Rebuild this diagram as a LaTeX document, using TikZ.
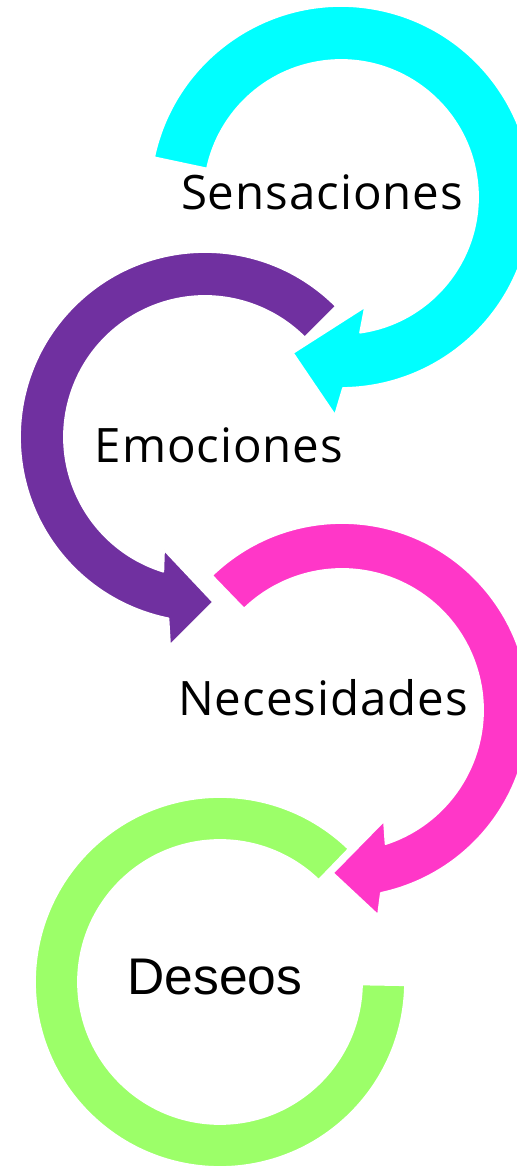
\documentclass[tikz,border=0pt]{standalone}
\usepackage{fontspec}
\setmainfont[LetterSpace=2]{Open Sans}
\newfontfamily\arialfont{Liberation Sans}
\definecolor{cSens}{HTML}{00FFFF}
\definecolor{cEmo}{HTML}{7030A0}
\definecolor{cNec}{HTML}{FF37C8}
\definecolor{cDes}{HTML}{9CFF69}
\newcommand{\bigtxt}   {\fontsize{40.5}{40.5}\selectfont}
\newcommand{\destxt}   {\arialfont\fontsize{44}{44}\selectfont}

\begin{document}
\begin{tikzpicture}[x=0.03cm,y=0.03cm,
   band/.style={draw=white,line width=1.5pt,line join=round},
   lbl/.style={anchor=base,inner sep=0pt}]
   \clip (0,0) rectangle (517,1167);
   \useasboundingbox (0,0) rectangle (517,1167);
   % Sensaciones
   \begin{scope}[shift={(341,970)}]
   \fill[band,fill=cSens] (168:191) arc[start angle=168,end angle=-89.4,radius=191]
      -- (-6,-218) -- (-48,-156) -- (24,-110) -- (-82:137)
      arc[start angle=-82,end angle=168,radius=137] -- cycle;
   \end{scope}
   % Emociones
   \begin{scope}[shift={(205,730)}]
   \fill[band,fill=cEmo] (45:185) arc[start angle=45,end angle=258.6,radius=185]
      -- (-35,-208) -- (8,-165) -- (-41,-113) -- (252.8:141)
      arc[start angle=252.8,end angle=45,radius=141] -- cycle;
   \end{scope}
   % Necesidades
   \begin{scope}[shift={(342,457)}]
   \fill[band,fill=cNec] (134:187) arc[start angle=134,end angle=-78,radius=187]
      -- (36,-205) -- (-9,-163) -- (42,-111) -- (-72:141)
      arc[start angle=-72,end angle=134,radius=141] -- cycle;
   \end{scope}
   % Deseos
   \begin{scope}[shift={(220,185)}]
   \fill[band,fill=cDes] (46:185) arc[start angle=46,end angle=359,radius=185]
      -- (359:142) arc[start angle=359,end angle=46,radius=142] -- cycle;
   \end{scope}
   \node[lbl] (sens) at (322,957) {\bigtxt Sensaciones};
   \node[lbl] (emo)  at (219,704) {\bigtxt Emociones};
   \node[lbl] (nec)  at (323,451) {\bigtxt Necesidades};
   \node[lbl] (des)  at (215,172) {\destxt Deseos};
\end{tikzpicture}
\end{document}
